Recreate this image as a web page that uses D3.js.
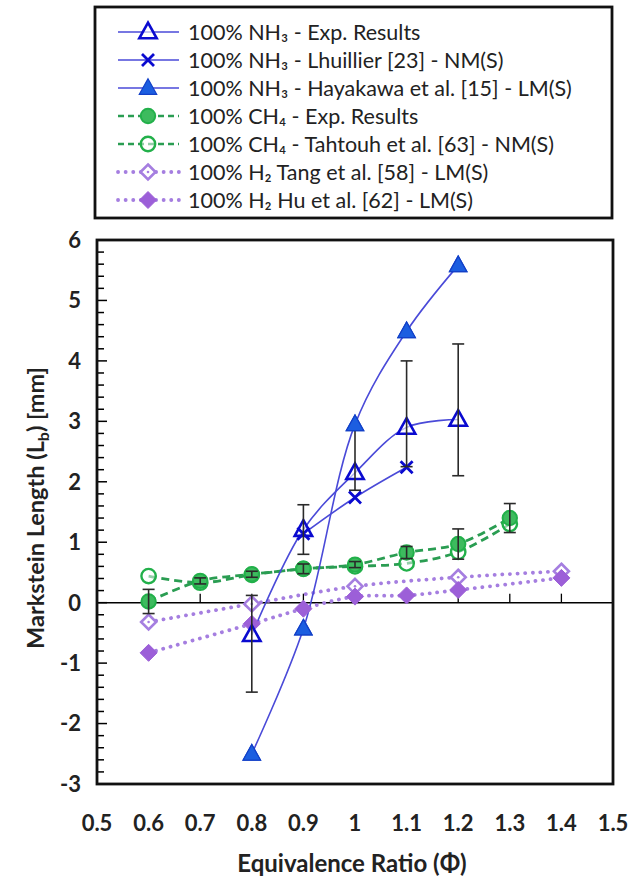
<!DOCTYPE html>
<html><head><meta charset="utf-8">
<script src="https://cdn.jsdelivr.net/npm/d3@7"></script>
<style>html,body{margin:0;padding:0;background:#fff}svg{display:block}</style>
</head><body>
<script>
// ---------------- DATA ----------------
const xTicks = [0.5,0.6,0.7,0.8,0.9,1,1.1,1.2,1.3,1.4,1.5];
const xTickLabels = ["0.5","0.6","0.7","0.8","0.9","1","1.1","1.2","1.3","1.4","1.5"];
const yTicks = [-3,-2,-1,0,1,2,3,4,5,6];

const nh3ExpX = [0.8,0.9,1.0,1.1,1.2];
const nh3ExpY = [-0.53,1.21,2.15,2.9,3.03];
const nh3ExpErrPlus = [0.65,0.41,0.75,1.1,1.25];
const nh3ExpErrMinus = [0.95,0.41,0.29,0.65,0.93];

const lhuX = [0.9,1.0,1.1];
const lhuY = [1.14,1.74,2.24];

const hayX = [0.8,0.9,1.0,1.1,1.2];
const hayY = [-2.5,-0.43,2.95,4.49,5.58];

const ch4ExpX = [0.6,0.7,0.8,0.9,1.0,1.1,1.2,1.3];
const ch4ExpY = [0.02,0.36,0.47,0.56,0.63,0.83,0.97,1.4];
const ch4ExpErr = [0.2,0.05,0.05,0.08,0.05,0.1,0.25,0.24];

const tahX = [0.6,0.7,0.8,0.9,1.0,1.1,1.2,1.3];
const tahY = [0.44,0.33,0.46,0.56,0.6,0.65,0.84,1.3];

const tangX = [0.6,0.8,1.0,1.2,1.4];
const tangY = [-0.32,-0.02,0.27,0.42,0.52];

const huX = [0.6,0.8,0.9,1.0,1.1,1.2,1.4];
const huY = [-0.83,-0.35,-0.1,0.1,0.12,0.21,0.41];

const legendLabels = [
  "100% NH₃ - Exp. Results",
  "100% NH₃ - Lhuillier [23] - NM(S)",
  "100% NH₃ - Hayakawa et al. [15] - LM(S)",
  "100% CH₄ - Exp. Results",
  "100% CH₄ - Tahtouh et al. [63] - NM(S)",
  "100% H₂ Tang et al. [58] - LM(S)",
  "100% H₂ Hu et al. [62] - LM(S)"
];

// ---------------- LAYOUT ----------------
const W = 632, H = 884;
const plot = {left: 97, right: 613, top: 240, bottom: 784};
const FONT = "Lato, 'Open Sans', sans-serif";

const svg = d3.select("body").append("svg").attr("width", W).attr("height", H);

const x = d3.scaleLinear().domain([0.5,1.5]).range([plot.left, plot.right]);
const y = d3.scaleLinear().domain([-3,6]).range([plot.bottom, plot.top]);

const zip = (xs, ys) => xs.map((v,i)=>({x:v, y:ys[i]}));

const BLUE_LINE = "#4a4ad8";
const BLUE_MARK = "#0a0ad0";
const BLUE_FILL = "#1c5ee0";
const GREEN_LINE = "#2a9d52";
const GREEN_MARK = "#22b04a";
const GREEN_FILL = "#3dbb5e";
const PURPLE = "#a57ee0";
const PURPLE_FILL = "#9c5fd8";

const styles = {
  nh3: {stroke: BLUE_LINE, width: 1.6, dash: null, cap: "butt"},
  ch4: {stroke: GREEN_LINE, width: 2.8, dash: "8,5", cap: "butt"},
  h2: {stroke: PURPLE, width: 3.8, dash: "0.1,7.5", cap: "round"}
};

const line = d3.line().x(d=>x(d.x)).y(d=>y(d.y)).curve(d3.curveCatmullRom.alpha(0.5));

// ---------------- AXES ----------------
const yMinor = d3.range(-3, 6.0001, 0.2).map(v=>+v.toFixed(2));
const gAxis = svg.append("g");
gAxis.selectAll("line.ymin").data(yMinor).enter().append("line")
  .attr("x1", plot.left).attr("x2", d => Math.abs(d - Math.round(d))<1e-6 ? plot.left+10 : plot.left+7)
  .attr("y1", d=>y(d)).attr("y2", d=>y(d))
  .attr("stroke", "#000").attr("stroke-width", 1.5);

gAxis.append("line").attr("x1", plot.left).attr("x2", plot.right)
  .attr("y1", y(0)).attr("y2", y(0)).attr("stroke","#000").attr("stroke-width",1.5);
gAxis.selectAll("line.xt").data(xTicks).enter().append("line")
  .attr("x1", d=>x(d)).attr("x2", d=>x(d))
  .attr("y1", y(0)).attr("y2", y(0)-9)
  .attr("stroke","#000").attr("stroke-width",1.3);

svg.append("rect").attr("x", plot.left).attr("y", plot.top)
  .attr("width", plot.right-plot.left).attr("height", plot.bottom-plot.top)
  .attr("fill","none").attr("stroke","#111").attr("stroke-width",2.8);

svg.selectAll("text.yl").data(yTicks).enter().append("text")
  .attr("x", 81).attr("y", d=>y(d)).attr("dy","0.36em")
  .attr("text-anchor","end").attr("font-family",FONT).attr("font-weight","bold")
  .attr("font-size",22).attr("fill","#222").text(d=>d);

svg.selectAll("text.xl").data(xTicks).enter().append("text")
  .attr("x", d=>x(d)).attr("y", 831)
  .attr("text-anchor","middle").attr("font-family",FONT).attr("font-weight","bold")
  .attr("font-size",22).attr("fill","#222").text((d,i)=>xTickLabels[i]);

svg.append("text").attr("x", 352).attr("y", 872).attr("text-anchor","middle")
  .attr("font-family",FONT).attr("font-weight","bold").attr("font-size",24).attr("fill","#222")
  .text("Equivalence Ratio (Φ)");

const yt = svg.append("text").attr("transform","translate(44,508) rotate(-90)")
  .attr("text-anchor","middle").attr("font-family",FONT).attr("font-weight","bold")
  .attr("font-size",23.5).attr("fill","#222");
yt.append("tspan").text("Markstein Length (L");
yt.append("tspan").attr("font-size",16).attr("dy",5).text("b");
yt.append("tspan").attr("dy",-5).text(") [mm]");

// ---------------- SERIES LINES ----------------
const gLines = svg.append("g");
function drawLine(data, st) {
  gLines.append("path").datum(data).attr("d", line)
    .attr("fill","none").attr("stroke", st.stroke).attr("stroke-width", st.width)
    .attr("stroke-dasharray", st.dash).attr("stroke-linecap", st.cap);
}
drawLine(zip(tangX,tangY), styles.h2);
drawLine(zip(huX,huY), styles.h2);
drawLine(zip(tahX,tahY), styles.ch4);
drawLine(zip(ch4ExpX,ch4ExpY), styles.ch4);
drawLine(zip(nh3ExpX,nh3ExpY), styles.nh3);
drawLine(zip(lhuX,lhuY), styles.nh3);
drawLine(zip(hayX,hayY), styles.nh3);

// ---------------- MARKERS ----------------
const triPath = (s) => `M0,${-s*0.62}L${s*0.58},${s*0.42}L${-s*0.58},${s*0.42}Z`;
const diaPath = (s) => `M0,${-s}L${s},0L0,${s}L${-s},0Z`;

function marker(g, type, cx, cy) {
  const t = g.append("g").attr("transform", `translate(${cx},${cy})`);
  if (type === "triOpen") {
    t.append("path").attr("d", triPath(15)).attr("fill","#fff").attr("fill-opacity",0.6)
      .attr("stroke", BLUE_MARK).attr("stroke-width",2.6);
  } else if (type === "triFill") {
    t.append("path").attr("d", triPath(15)).attr("fill", BLUE_FILL)
      .attr("stroke", "#1240c8").attr("stroke-width",1.2);
  } else if (type === "cross") {
    t.append("path").attr("d","M-6,-6L6,6M-6,6L6,-6").attr("stroke",BLUE_MARK)
      .attr("stroke-width",2.8).attr("fill","none");
  } else if (type === "circFill") {
    t.append("circle").attr("r",7.2).attr("fill",GREEN_FILL).attr("stroke",GREEN_MARK).attr("stroke-width",2);
  } else if (type === "circOpen") {
    t.append("circle").attr("r",7.2).attr("fill","#fff").attr("fill-opacity",0.5).attr("stroke",GREEN_MARK).attr("stroke-width",2.4);
  } else if (type === "diaOpen") {
    t.append("path").attr("d", diaPath(7.5)).attr("fill","#fff").attr("stroke",PURPLE).attr("stroke-width",2.6);
    t.append("circle").attr("r",1.3).attr("fill",PURPLE);
  } else if (type === "diaFill") {
    t.append("path").attr("d", diaPath(8.5)).attr("fill",PURPLE_FILL).attr("stroke",PURPLE_FILL).attr("stroke-width",1);
  }
}

const gM = svg.append("g");
zip(tangX,tangY).forEach(d=>marker(gM,"diaOpen",x(d.x),y(d.y)));
zip(huX,huY).forEach(d=>marker(gM,"diaFill",x(d.x),y(d.y)));
zip(tahX,tahY).forEach(d=>marker(gM,"circOpen",x(d.x),y(d.y)));
zip(ch4ExpX,ch4ExpY).forEach(d=>marker(gM,"circFill",x(d.x),y(d.y)));
zip(nh3ExpX,nh3ExpY).forEach(d=>marker(gM,"triOpen",x(d.x),y(d.y)));
zip(lhuX,lhuY).forEach(d=>marker(gM,"cross",x(d.x),y(d.y)));
zip(hayX,hayY).forEach(d=>marker(gM,"triFill",x(d.x),y(d.y)));

// ---------------- ERROR BARS ----------------
const gE = svg.append("g").attr("stroke","#2a2a2a").attr("stroke-width",1.6);
function errBar(xv, lo, hi) {
  gE.append("line").attr("x1",x(xv)).attr("x2",x(xv)).attr("y1",y(lo)).attr("y2",y(hi));
  [lo,hi].forEach(v=>gE.append("line").attr("x1",x(xv)-6).attr("x2",x(xv)+6).attr("y1",y(v)).attr("y2",y(v)));
}
nh3ExpX.forEach((xv,i)=>errBar(xv, nh3ExpY[i]-nh3ExpErrMinus[i], nh3ExpY[i]+nh3ExpErrPlus[i]));
ch4ExpX.forEach((xv,i)=>errBar(xv, ch4ExpY[i]-ch4ExpErr[i], ch4ExpY[i]+ch4ExpErr[i]));
zip(hayX,hayY).forEach(d=>marker(svg,"triFill",x(d.x),y(d.y)));

// ---------------- LEGEND ----------------
const leg = {x: 95, y: 7, w: 517, h: 211};
svg.append("rect").attr("x",leg.x).attr("y",leg.y).attr("width",leg.w).attr("height",leg.h)
  .attr("fill","#fff").attr("stroke","#111").attr("stroke-width",2.8);
const legTypes = [
  ["nh3","triOpen"],["nh3","cross"],["nh3","triFill"],
  ["ch4","circFill"],["ch4","circOpen"],["h2","diaOpen"],["h2","diaFill"]
];
legendLabels.forEach((lab,i)=>{
  const cy = 32 + i*28;
  const st = styles[legTypes[i][0]];
  svg.append("line").attr("x1",118).attr("x2",179).attr("y1",cy).attr("y2",cy)
    .attr("stroke",st.stroke).attr("stroke-width",st.width === 2.8 ? 2.4 : st.width)
    .attr("stroke-dasharray", st.dash === "8,5" ? "6,4" : st.dash).attr("stroke-linecap",st.cap);
  marker(svg, legTypes[i][1], 148, cy);
  svg.append("text").attr("x",188).attr("y",cy).attr("dy","0.36em")
    .attr("font-family",FONT).attr("font-size",21.5).attr("fill","#222").text(lab);
});
</script>
</body></html>
